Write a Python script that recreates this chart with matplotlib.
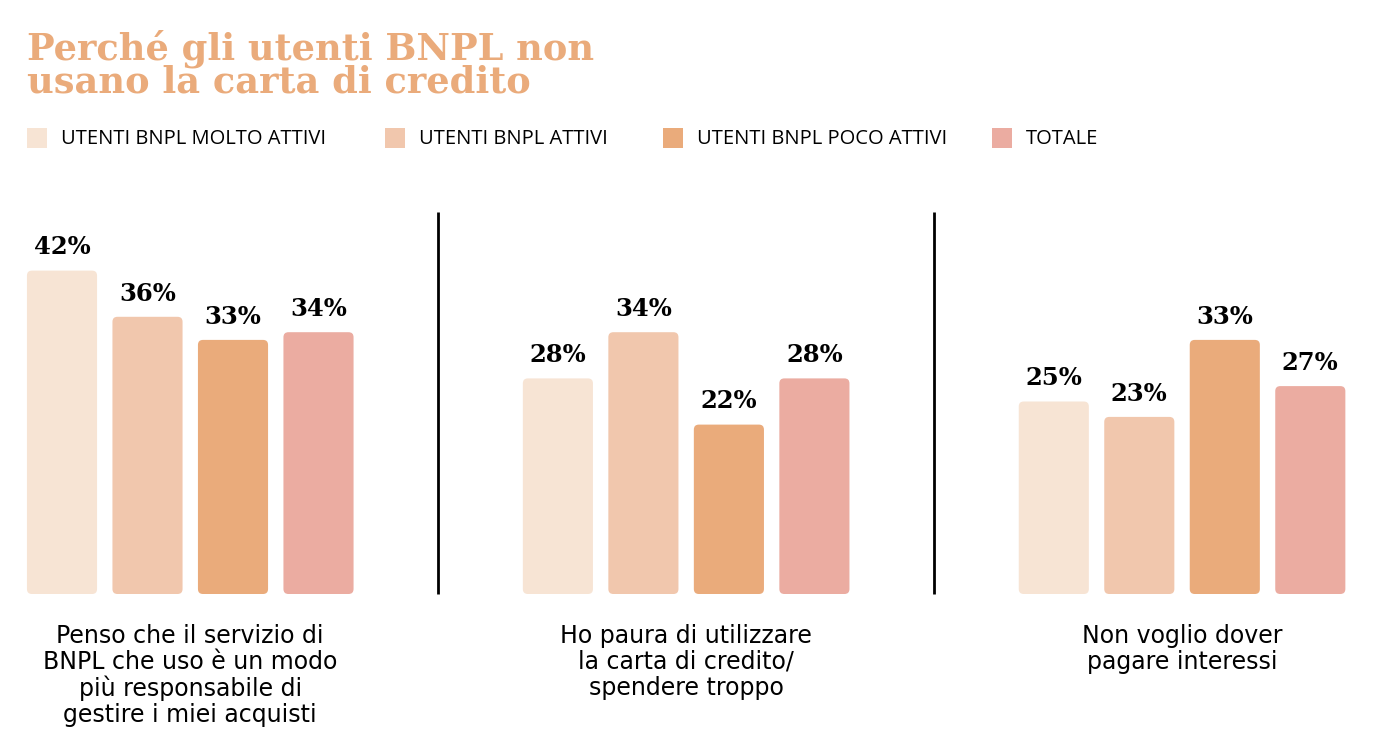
import matplotlib
matplotlib.use("Agg")
import matplotlib.pyplot as plt
from matplotlib.patches import FancyBboxPatch, Rectangle

categories = [
    "Penso che il servizio di\nBNPL che uso è un modo\npiù responsabile di\ngestire i miei acquisti",
    "Ho paura di utilizzare\nla carta di credito/\nspendere troppo",
    "Non voglio dover\npagare interessi",
]
series_names = ["UTENTI BNPL MOLTO ATTIVI", "UTENTI BNPL ATTIVI",
                "UTENTI BNPL POCO ATTIVI", "TOTALE"]
values = {
    "UTENTI BNPL MOLTO ATTIVI": [42, 28, 25],
    "UTENTI BNPL ATTIVI": [36, 34, 23],
    "UTENTI BNPL POCO ATTIVI": [33, 22, 33],
    "TOTALE": [34, 28, 27],
}
colors = ["#F7E4D4", "#F1C7AD", "#EAAB7B", "#EBACA1"]
title_color = "#EAAB7B"

W, H = 1390, 748
fig = plt.figure(figsize=(W / 100, H / 100), dpi=100)

# axes: baseline at y=594px, top at 200px
ax_bottom = (H - 594) / H
ax_height = (594 - 200) / H
ax = fig.add_axes([0, ax_bottom, 1, ax_height])
bar_px = 85.5
x0_px = 62
ax.set_xlim(-x0_px / bar_px, (W - x0_px) / bar_px)
px_per_unit = 7.7
ax.set_ylim(0, (594 - 200) / px_per_unit)
ax.axis("off")

group_gap = 5.8
bw = 0.82
n = len(series_names)
aspect = bar_px / px_per_unit
for i, name in enumerate(series_names):
    xs = [g * group_gap + i for g in range(len(categories))]
    bars = ax.bar(xs, values[name], width=bw, color=colors[i])
    for b, v in zip(bars, values[name]):
        x, y = b.get_x(), b.get_y()
        w, h = b.get_width(), b.get_height()
        b.set_visible(False)
        r = 5 / bar_px
        fp = FancyBboxPatch((x + r, y + r * aspect), w - 2 * r, h - 2 * r * aspect,
                            boxstyle=f"round,pad={r},rounding_size={r}",
                            mutation_aspect=aspect, facecolor=colors[i],
                            edgecolor="none")
        ax.add_patch(fp)
        ax.annotate(f"{v}%", (x + w / 2, h), xytext=(0, 8), textcoords="offset points",
                    ha="center", va="bottom", fontsize=17.5, fontweight="heavy",
                    family="DejaVu Serif", color="black")

# dividers between groups
for g in range(1, len(categories)):
    xd = (g - 1) * group_gap + (n - 1) + (group_gap - (n - 1)) / 2
    ax.plot([xd, xd], [0, (594 - 212) / px_per_unit], color="black", lw=2,
            solid_capstyle="butt", clip_on=False)

# category labels
for g, cat in enumerate(categories):
    xc_data = g * group_gap + (n - 1) / 2
    xc = (x0_px + xc_data * bar_px) / W
    fig.text(xc, 1 - 624 / H, cat, ha="center", va="top", fontsize=17,
             family="DejaVu Sans", color="black", linespacing=1.1)

# title
fig.text(27 / W, 1 - 29 / H, "Perché gli utenti BNPL non\nusano la carta di credito",
         ha="left", va="top", fontsize=26.5, fontweight="heavy", family="DejaVu Serif",
         color=title_color, linespacing=0.9)

# legend
leg_x = [27, 385, 663, 992]
for i, name in enumerate(series_names):
    fig.patches.append(Rectangle((leg_x[i] / W, 1 - 148 / H), 20 / W, 20 / H,
                                 transform=fig.transFigure, facecolor=colors[i],
                                 edgecolor="none"))
    fig.text((leg_x[i] + 34) / W, 1 - 139 / H, name, ha="left", va="center",
             fontsize=14.5, family="Open Sans", color="black")

fig.savefig("out.png", dpi=100, facecolor="white")
